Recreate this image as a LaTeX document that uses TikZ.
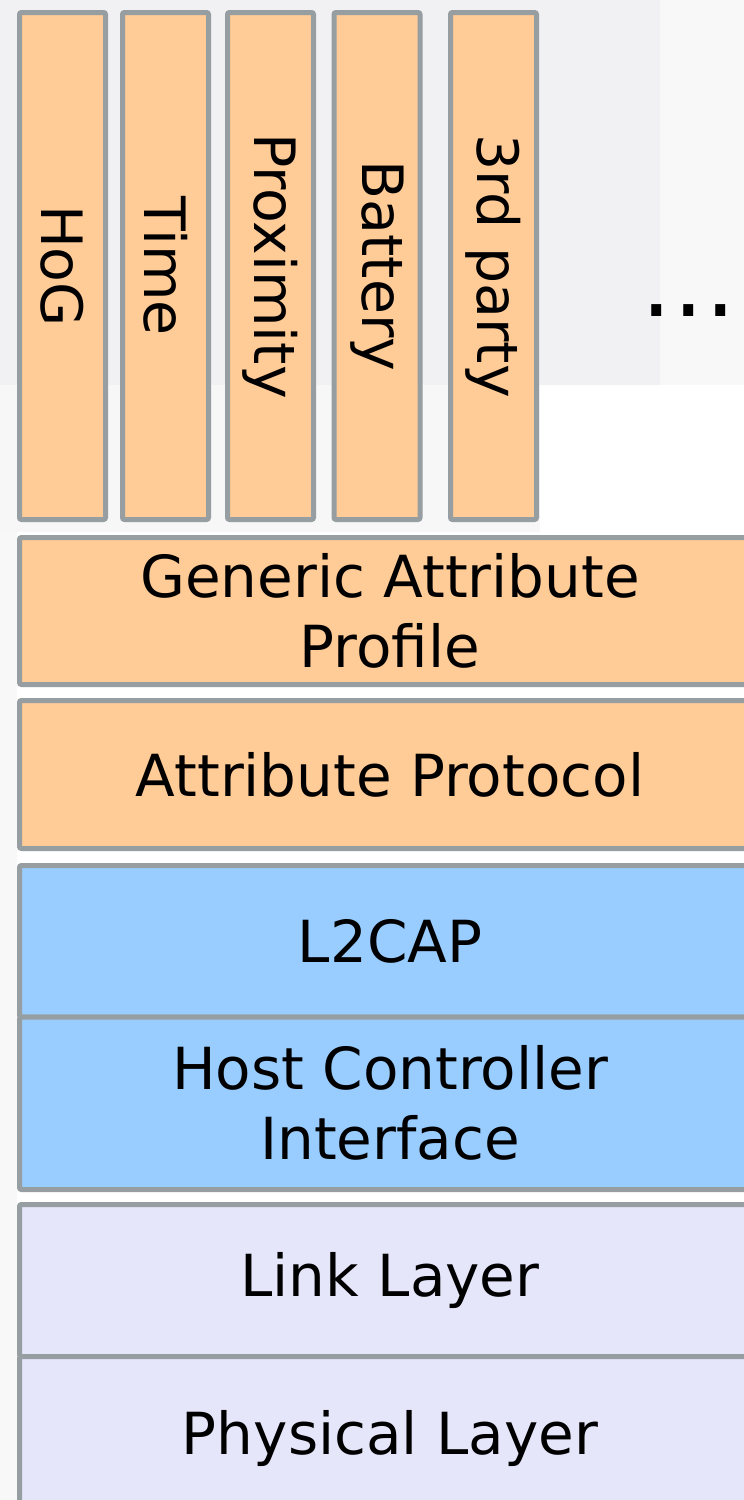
\documentclass[tikz,border=0pt]{standalone}
\usepackage{fontspec}
\setmainfont{DejaVu Sans}
\definecolor{orangefill}{HTML}{FFCB97}
\definecolor{bluefill}{HTML}{99CCFF}
\definecolor{lavfill}{HTML}{E6E6FB}
\definecolor{edge}{HTML}{969EA1}
\definecolor{bgA}{HTML}{F1F1F3}
\definecolor{bgB}{HTML}{F8F8F8}
\tikzset{
  layer/.style={draw=edge, line width=2.5pt, rounded corners=1pt, inner sep=0pt,
    font=\fontsize{29}{35}\selectfont, align=center, text=black},
  profile/.style={layer, fill=orangefill, minimum width=43pt, minimum height=253.5pt},
  vlabel/.style={rotate=-90, inner sep=0pt, font=\fontsize{28.5}{34}\selectfont},
}
\begin{document}
\begin{tikzpicture}[x=0.5pt, y=-0.5pt]
\useasboundingbox (0,0) rectangle (744,1500);
\clip (0,0) rectangle (744,1500);
% background
\fill[white] (0,0) rectangle (744,1500);
\fill[bgB] (0,0) rectangle (17,1500);
\fill[bgA] (0,0) rectangle (660,385);
\fill[bgB] (660,0) rectangle (744,385);
\fill[bgA!60!white] (0,385) rectangle (540,532);
% profiles
\node[profile] (hog) at (62.5,266) {};
\node[profile] (time) at (165.5,266) {};
\node[profile] (prox) at (270.5,266) {};
\node[profile] (batt) at (377,266) {};
\node[profile] (third) at (493.5,266) {};
\node[vlabel] (hogt) at (hog.center) {HoG};
\node[vlabel] (timet) at (time.center) {Time};
\node[vlabel] (proxt) at (prox.center) {Proximity};
\node[vlabel] (battt) at (batt.center) {Battery};
\node[vlabel] (thirdt) at (third.center) {3rd party};
\node[inner sep=0pt, font=\fontsize{48}{50}\selectfont] (more) at (689,311) {.\kern0.8pt.\kern0.8pt.};
% stack
\node[layer, fill=orangefill, minimum width=370.5pt, minimum height=73.5pt] (gap) at (390,611) {Generic Attribute\\Profile};
\node[layer, fill=orangefill, minimum width=370.5pt, minimum height=74pt] (att) at (390,774.5) {Attribute Protocol};
\node[layer, fill=bluefill, minimum width=370.5pt, minimum height=75.75pt] (l2cap) at (390,941.25) {L2CAP};
\node[layer, fill=bluefill, minimum width=370.5pt, minimum height=86.25pt] (hci) at (390,1103.25) {Host Controller\\Interface};
\node[layer, fill=lavfill, minimum width=370.5pt, minimum height=76pt] (ll) at (390,1280.5) {Link Layer};
\node[layer, fill=lavfill, minimum width=370.5pt, minimum height=76pt, text depth=0pt] (phy) at (390,1432.5) {Physical Layer};
\end{tikzpicture}
\end{document}
